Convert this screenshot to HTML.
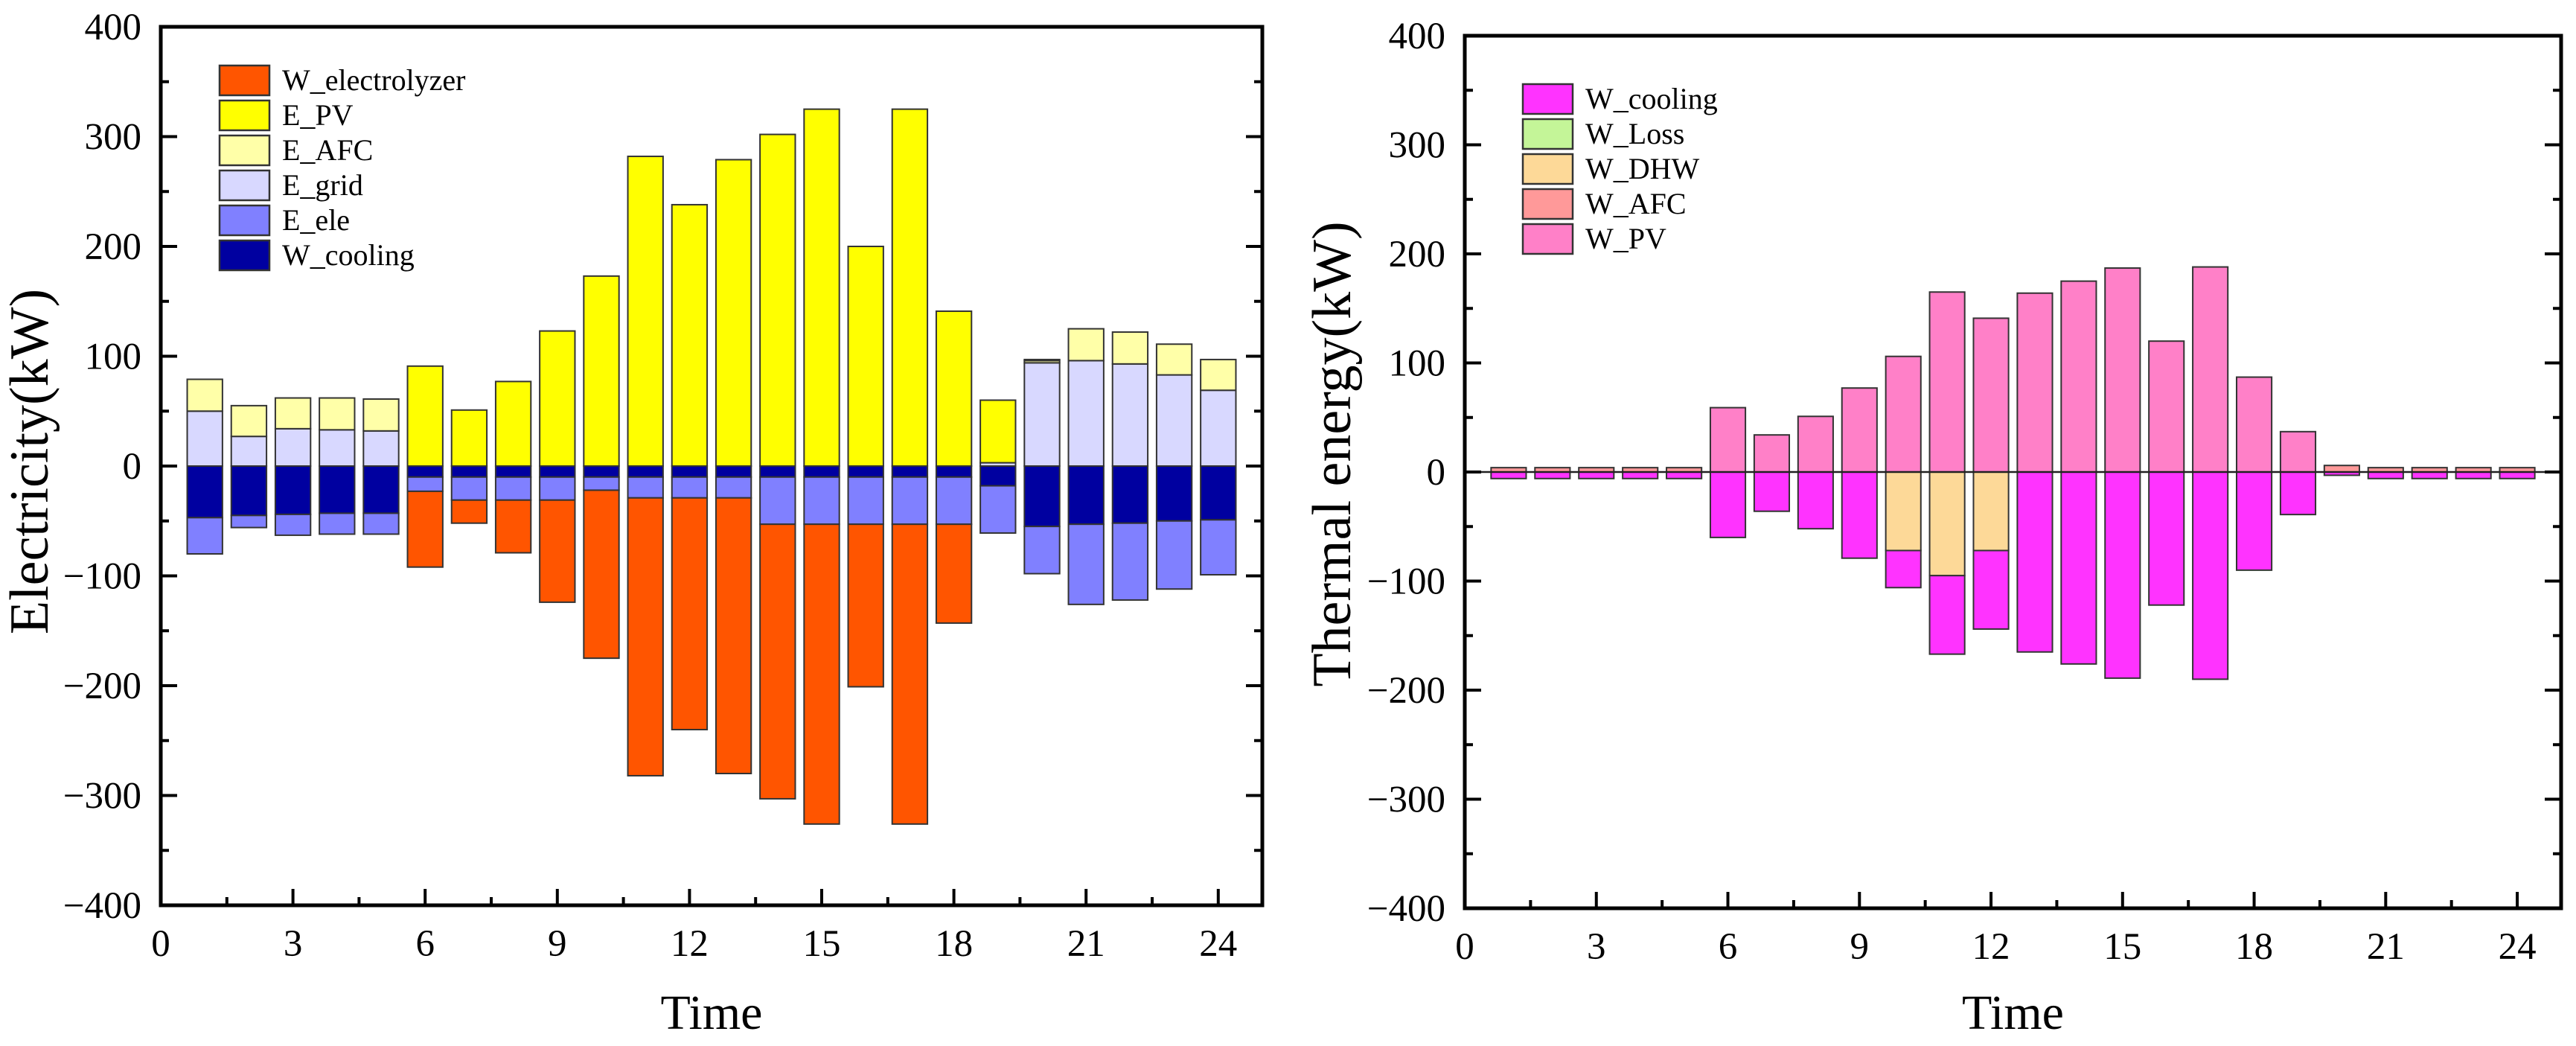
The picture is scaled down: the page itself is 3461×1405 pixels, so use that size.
<!DOCTYPE html>
<html><head><meta charset="utf-8"><style>
html,body{margin:0;padding:0;background:#fff;}
svg{display:block;font-family:"Liberation Serif",serif;}
</style></head><body>
<svg id="svg" width="3461" height="1405" viewBox="0 0 3461 1405" xmlns="http://www.w3.org/2000/svg"></svg>
<script>
const hours=[1,2,3,4,5,6,7,8,9,10,11,12,13,14,15,16,17,18,19,20,21,22,23,24];
const xTicks=[0,3,6,9,12,15,18,21,24];
const yTicks=[-400,-300,-200,-100,0,100,200,300,400];
// Electricity chart series
const eGrid=[50,27,34,33,32,0,0,0,0,0,0,0,0,0,0,0,0,0,3,94,96,93,83,69];
const eAFC=[29,28,28,29,29,0,0,0,0,0,0,0,0,0,0,0,0,0,0,2,29,29,28,28];
const ePV=[0,0,0,0,0,91,51,77,123,173,282,238,279,302,325,200,325,141,57,1,0,0,0,0];
const wCoolingE=[47,45,44,43,43,10,10,10,10,10,10,10,10,10,10,10,10,10,18,55,53,52,50,49];
const eEle=[33,11,19,19,19,13,21,21,21,12,19,19,19,43,43,43,43,43,43,43,73,70,62,50];
const wElectrolyzer=[0,0,0,0,0,69,21,48,93,153,253,211,251,250,273,148,273,90,0,0,0,0,0,0];
// Thermal chart series
const wPV=[0,0,0,0,0,59,34,51,77,106,165,141,164,175,187,120,188,87,37,0,0,0,0,0];
const wAFC=[4,4,4,4,4,0,0,0,0,0,0,0,0,0,0,0,0,0,0,6,4,4,4,4];
const wLoss=[0,0,0,0,0,0,0,0,0,0,0,0,0,0,0,0,0,0,0,0,0,0,0,0];
const wDHW=[0,0,0,0,0,0,0,0,0,72,95,72,0,0,0,0,0,0,0,0,0,0,0,0];
const wCoolingT=[6,6,6,6,6,60,36,52,79,34,72,72,165,176,189,122,190,90,39,3,6,6,6,6];

const NS="http://www.w3.org/2000/svg";
const svg=document.getElementById('svg');
function mk(tag,attrs,parent){const e=document.createElementNS(NS,tag);for(const k in attrs)e.setAttribute(k,attrs[k]);(parent||svg).appendChild(e);return e;}

function chart(cfg){
  const g=mk('g',{});
  
  
  const X=v=>cfg.x0+(v/25)*(cfg.x1-cfg.x0);
  const Y=v=>cfg.y1-((v+400)/800)*(cfg.y1-cfg.y0);
  const bw=(cfg.x1-cfg.x0)/25*0.8;
  hours.forEach((h,i)=>{
    let pos=0;
    cfg.pos.forEach(s=>{const v=s.data[i];if(v>0){const r=mk('rect',{x:X(h)-bw/2,y:Y(pos+v),width:bw,height:Y(pos)-Y(pos+v),fill:s.color,stroke:'#333','stroke-width':2},g);
      
      
      pos+=v;}});
    let neg=0;
    cfg.neg.forEach(s=>{const v=s.data[i];if(v>0){const r=mk('rect',{x:X(h)-bw/2,y:Y(neg),width:bw,height:Y(neg-v)-Y(neg),fill:s.color,stroke:'#333','stroke-width':2},g);
      
      
      neg-=v;}});
  });
  if(cfg.zeroLine){const zl=mk('line',{x1:cfg.x0,x2:cfg.x1,y1:Y(0),y2:Y(0),stroke:'#222','stroke-width':2.5},g);
    
    }
  const fr=mk('rect',{x:cfg.x0,y:cfg.y0,width:cfg.x1-cfg.x0,height:cfg.y1-cfg.y0,fill:'none',stroke:'#000','stroke-width':5},g);
  
  
  yTicks.forEach((t,k)=>{
    const y=Y(t);
    mk('line',{x1:cfg.x0,x2:cfg.x0+22,y1:y,y2:y,stroke:'#000','stroke-width':4},g);
    mk('line',{x1:cfg.x1,x2:cfg.x1-22,y1:y,y2:y,stroke:'#000','stroke-width':4},g);
    if(k<yTicks.length-1){const ym=Y(t+50);
      mk('line',{x1:cfg.x0,x2:cfg.x0+11,y1:ym,y2:ym,stroke:'#000','stroke-width':4},g);
      mk('line',{x1:cfg.x1,x2:cfg.x1-11,y1:ym,y2:ym,stroke:'#000','stroke-width':4},g);}
    const tx=mk('text',{x:cfg.x0-26,y:y+17,'text-anchor':'end','font-size':51,fill:'#000'},g);
    tx.textContent=(t<0?'\u2212'+(-t):String(t));
    
    
  });
  xTicks.forEach((t,k)=>{
    const x=X(t);
    mk('line',{x1:x,x2:x,y1:cfg.y1,y2:cfg.y1-22,stroke:'#000','stroke-width':4},g);
    if(k<xTicks.length-1){const xm=X(t+1.5);
      mk('line',{x1:xm,x2:xm,y1:cfg.y1,y2:cfg.y1-11,stroke:'#000','stroke-width':4},g);}
    const tx=mk('text',{x:x,y:cfg.y1+68,'text-anchor':'middle','font-size':51,fill:'#000'},g);
    tx.textContent=String(t);
    
    
  });
  const xt=mk('text',{x:(cfg.x0+cfg.x1)/2,y:1382,'text-anchor':'middle','font-size':66,fill:'#000'},g);
  xt.textContent='Time';
  
  
  const yt=mk('text',{x:0,y:0,'text-anchor':'middle','font-size':74,fill:'#000',transform:`translate(${cfg.ytx},${cfg.ytc}) rotate(-90)`},g);
  yt.textContent=cfg.ytitle;
  
  
  cfg.legend.forEach((s,k)=>{
    const y=cfg.ly+k*47;
    const r=mk('rect',{x:cfg.lx,y:y,width:67,height:40,fill:s.color,stroke:'#333','stroke-width':2.5},g);
    
    
    const t=mk('text',{x:cfg.lx+84,y:y+33,'font-size':40,fill:'#000'},g);
    t.textContent=s.label;
    
    
  });
}
const C={elec:'#FF5500',pv:'#FFFF00',afc:'#FFFFA8',grid:'#D8D8FF',ele:'#8080FF',cool:'#0000A0',
  tcool:'#FF33FF',loss:'#C4F598',dhw:'#FDD998',tafc:'#FF9999',tpv:'#FF80C8'};
chart({name:'electricity-chart',x0:216,x1:1696,y0:36,y1:1216,ytx:64,ytc:620,ytitle:'Electricity(kW)',lx:295,ly:88,
  pos:[{key:'e-grid',data:eGrid,color:C.grid},{key:'e-afc',data:eAFC,color:C.afc},{key:'e-pv',data:ePV,color:C.pv}],
  neg:[{key:'w-cooling',data:wCoolingE,color:C.cool},{key:'e-ele',data:eEle,color:C.ele},{key:'w-electrolyzer',data:wElectrolyzer,color:C.elec}],
  legend:[{key:'w-electrolyzer',label:'W_electrolyzer',color:C.elec},{key:'e-pv',label:'E_PV',color:C.pv},{key:'e-afc',label:'E_AFC',color:C.afc},{key:'e-grid',label:'E_grid',color:C.grid},{key:'e-ele',label:'E_ele',color:C.ele},{key:'w-cooling',label:'W_cooling',color:C.cool}]});
chart({name:'thermal-chart',x0:1968,x1:3441,y0:48,y1:1220,ytx:1814,ytc:610,ytitle:'Thermal energy(kW)',lx:2046,ly:113,zeroLine:true,
  pos:[{key:'w-afc',data:wAFC,color:C.tafc},{key:'w-pv',data:wPV,color:C.tpv}],
  neg:[{key:'w-dhw',data:wDHW,color:C.dhw},{key:'w-loss',data:wLoss,color:C.loss},{key:'w-cooling',data:wCoolingT,color:C.tcool}],
  legend:[{key:'w-cooling',label:'W_cooling',color:C.tcool},{key:'w-loss',label:'W_Loss',color:C.loss},{key:'w-dhw',label:'W_DHW',color:C.dhw},{key:'w-afc',label:'W_AFC',color:C.tafc},{key:'w-pv',label:'W_PV',color:C.tpv}]});
</script>
</body></html>
